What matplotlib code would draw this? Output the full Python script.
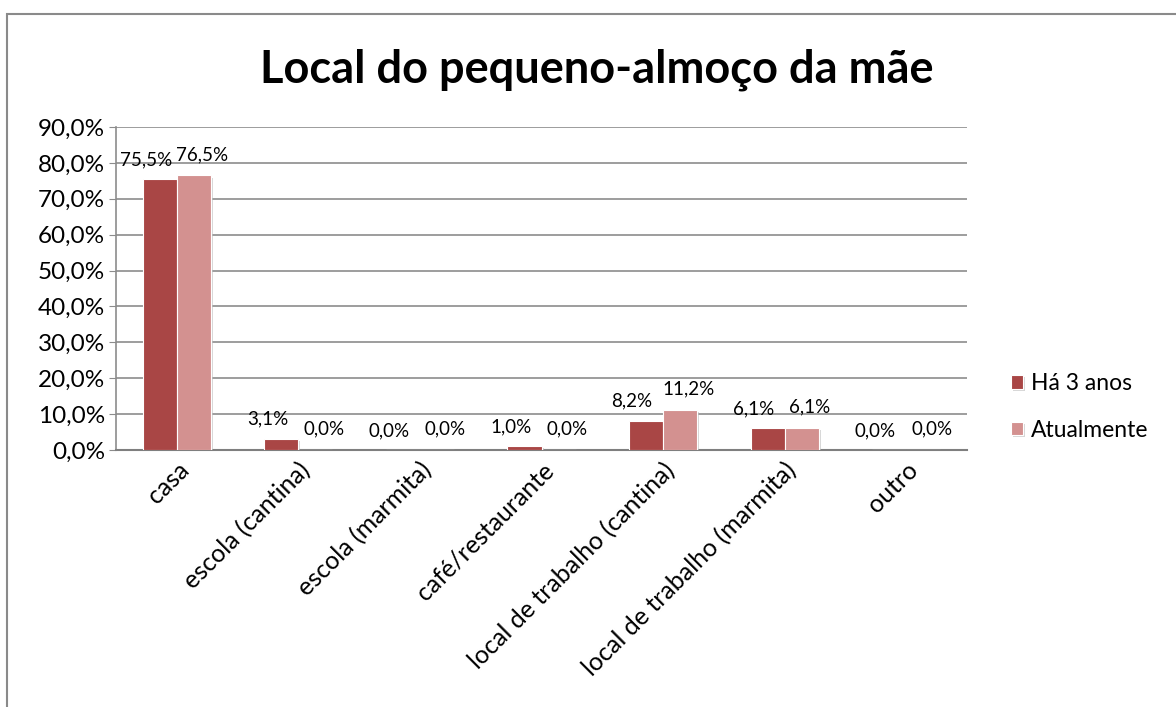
import matplotlib
matplotlib.use("Agg")
import matplotlib.pyplot as plt
import matplotlib.patheffects as pe
from matplotlib.patches import Rectangle
import numpy as np

# ── data ─────────────────────────────────────
categories = ["casa", "escola (cantina)", "escola (marmita)", "café/restaurante",
              "local de trabalho (cantina)", "local de trabalho (marmita)", "outro"]
ha_3_anos = [75.5, 3.1, 0.0, 1.0, 8.2, 6.1, 0.0]
atualmente = [76.5, 0.0, 0.0, 0.0, 11.2, 6.1, 0.0]
y_ticks = [0, 10, 20, 30, 40, 50, 60, 70, 80, 90]

DARK = "#A94645"
LIGHT = "#D39190"
GRID = "#8C8C8C"

plt.rcParams["font.family"] = ["Lato", "DejaVu Sans"]

fig = plt.figure(figsize=(11.76, 7.07), dpi=100)
ax = fig.add_axes([116 / 1176, 1 - 450 / 707, (967 - 116) / 1176, (450 - 127) / 707])

# outer chart frame
fig.patches.append(Rectangle((7 / 1176, -0.05), 1.0, 1 - 14 / 707 + 0.05,
                             transform=fig.transFigure, fill=False,
                             edgecolor="#8A8A8A", linewidth=1.5))

x = np.arange(len(categories))
w = 0.28
shadow = [pe.SimplePatchShadow(offset=(1.5, -1.5), shadow_rgbFace="#BBBBBB", alpha=0.6), pe.Normal()]
b1 = ax.bar(x - w / 2, ha_3_anos, w, color=DARK, edgecolor="white", linewidth=0.8,
            label="Há 3 anos", zorder=3, path_effects=shadow)
b2 = ax.bar(x + w / 2, atualmente, w, color=LIGHT, edgecolor="white", linewidth=0.8,
            label="Atualmente", zorder=3, path_effects=shadow)

for xi, v in zip(x, ha_3_anos):
    ax.annotate(f"{v:.1f}%".replace(".", ","), (xi - w / 2, v), xytext=(-10, 8),
                textcoords="offset points", ha="center", va="bottom", fontsize=13.5)
for xi, v in zip(x, atualmente):
    ax.annotate(f"{v:.1f}%".replace(".", ","), (xi + w / 2, v), xytext=(6, 9),
                textcoords="offset points", ha="center", va="bottom", fontsize=13.5)

ax.set_xlim(-0.5, len(categories) - 0.5)
ax.set_ylim(0, 90)
ax.set_yticks(y_ticks)
ax.set_yticklabels([f"{t:.1f}%".replace(".", ",") for t in y_ticks], fontsize=17.5)
ax.yaxis.grid(True, color=GRID, linewidth=1.2, zorder=0)
ax.set_axisbelow(True)
ax.tick_params(axis="y", length=5, color=GRID, pad=3)
ax.tick_params(axis="x", length=0, pad=6)
ax.set_xticks(x)
ax.set_xticklabels(categories, rotation=45, ha="right", rotation_mode="anchor", fontsize=18)

for s in ["top", "right"]:
    ax.spines[s].set_visible(False)
ax.spines["left"].set_color(GRID)
ax.spines["left"].set_linewidth(1.2)
ax.spines["bottom"].set_color("#7F7F7F")
ax.spines["bottom"].set_linewidth(1.5)

fig.text(597 / 1176, 1 - 70 / 707, "Local do pequeno-almoço da mãe", ha="center", va="center",
         fontsize=32.5, fontweight="bold")

fig.legend(handles=[b1, b2], loc="center left", bbox_to_anchor=(990 / 1176, 1 - 407 / 707),
           frameon=False, fontsize=16.5, handlelength=0.55, handleheight=0.55, handletextpad=0.35,
           labelspacing=1.1)

fig.savefig("out.png", dpi=100)
